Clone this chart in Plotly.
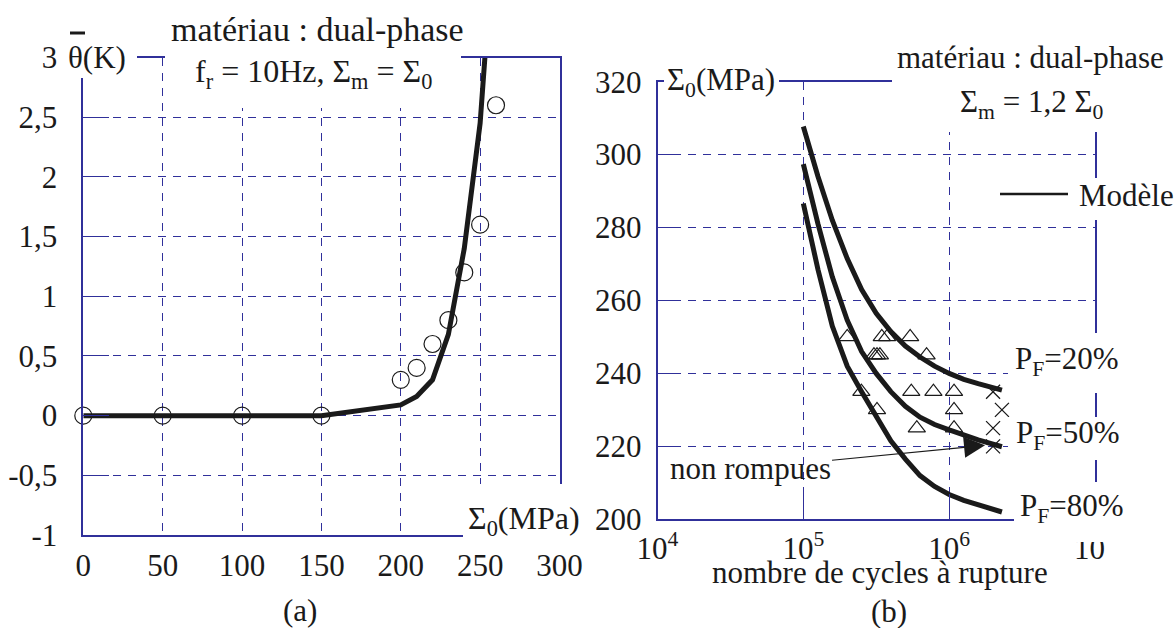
import plotly.graph_objects as go

W, H = 1176, 628
FONT = "Liberation Serif"
INK = "#1a1a1a"
NAVY = "#30309a"

# ---- (a) mean temperature rise vs stress amplitude ----
sigma_model = [0, 50, 100, 150, 200, 210, 220, 230, 240, 250, 253]
theta_model = [0, 0, 0, 0, 0.09, 0.16, 0.30, 0.68, 1.40, 2.45, 3.0]
sigma_exp = [0, 50, 100, 150, 200, 210, 220, 230, 240, 250, 260]
theta_exp = [0, 0, 0, 0, 0.30, 0.40, 0.60, 0.80, 1.20, 1.60, 2.60]
a_xticks = [0, 50, 100, 150, 200, 250, 300]
a_yticks = [-1, -0.5, 0, 0.5, 1, 1.5, 2, 2.5, 3]
a_yticktext = ["-1", "-0,5", "0", "0,5", "1", "1,5", "2", "2,5", "3"]

# ---- (b) S-N curves for three failure probabilities ----
n_curve = [1.0e5, 1.26e5, 1.58e5, 2.0e5, 2.51e5, 3.16e5, 3.98e5, 5.01e5,
           6.31e5, 7.94e5, 1.0e6, 1.26e6, 1.58e6, 2.3e6]
s_p20 = [307.7, 294.0, 282.0, 271.5, 263.0, 256.5, 251.5, 247.5,
         244.5, 242.0, 240.0, 238.4, 237.2, 235.4]
s_p50 = [297.4, 281.0, 266.5, 254.6, 246.0, 240.0, 235.0, 231.0,
         228.0, 226.0, 224.5, 223.0, 221.8, 219.9]
s_p80 = [286.6, 268.5, 253.0, 242.0, 235.0, 228.0, 221.5, 216.5,
         212.0, 209.0, 206.8, 205.2, 204.0, 202.0]
n_broken = [2.0e5, 3.45e5, 3.75e5, 5.4e5,
            3.05e5, 3.2e5, 3.35e5, 7.0e5,
            2.5e5, 5.5e5, 7.8e5, 1.08e6,
            3.2e5, 1.08e6,
            6.0e5, 1.08e6]
s_broken = [250, 250, 250, 250,
            245, 245, 245, 245,
            235, 235, 235, 235,
            230, 230,
            225, 225]
n_runout = [2.0e6, 2.3e6, 2.0e6, 2.0e6]
s_runout = [235, 230, 225, 220]
b_xticks = [1e4, 1e5, 1e6, 1e7]
b_xticktext = ["10<sup>4</sup>", "10<sup>5</sup>", "10<sup>6</sup>", "10<sup>7</sup>"]
b_yticks = [200, 220, 240, 260, 280, 300, 320]


def px(x):
    return x / W


def py(y):
    return 1 - y / H


fig = go.Figure()

fig.add_trace(go.Scatter(x=sigma_model, y=theta_model, mode="lines",
                         line=dict(color=INK, width=5), xaxis="x", yaxis="y",
                         showlegend=False, cliponaxis=True))
fig.add_trace(go.Scatter(x=sigma_exp, y=theta_exp, mode="markers",
                         marker=dict(symbol="circle-open", size=17, color=INK,
                                     line=dict(width=1.2, color=INK)),
                         xaxis="x", yaxis="y", showlegend=False, cliponaxis=False))

for s in (s_p20, s_p50, s_p80):
    fig.add_trace(go.Scatter(x=n_curve, y=s, mode="lines",
                             line=dict(color=INK, width=5),
                             xaxis="x2", yaxis="y2", showlegend=False))
fig.add_trace(go.Scatter(x=n_broken, y=s_broken, mode="markers",
                         marker=dict(symbol="triangle-up-open", size=15, color=INK,
                                     line=dict(width=1.2, color=INK)),
                         xaxis="x2", yaxis="y2", showlegend=False))
fig.add_trace(go.Scatter(x=n_runout, y=s_runout, mode="markers",
                         marker=dict(symbol="x-thin-open", size=14, color=INK,
                                     line=dict(width=1.3, color=INK)),
                         xaxis="x2", yaxis="y2", showlegend=False))

axis_common = dict(showline=True, linecolor=NAVY, linewidth=1.5, mirror=True,
                   showgrid=True, gridcolor=NAVY, gridwidth=1.2, griddash="8px,7px",
                   zeroline=False, automargin=False,
                   tickfont=dict(family=FONT, size=31, color=INK))

fig.update_layout(
    width=W, height=H,
    margin=dict(l=0, r=0, t=0, b=0, pad=0, autoexpand=False),
    paper_bgcolor="white", plot_bgcolor="white",
    font=dict(family=FONT, size=31, color=INK),
    xaxis=dict(domain=[px(83.3), px(559.5)], range=[0, 300], tickvals=a_xticks,
               ticks="", ticklabelstandoff=2, anchor="y", **axis_common),
    yaxis=dict(domain=[py(535), py(57.5)], range=[-1, 3], tickvals=a_yticks,
               ticktext=a_yticktext, ticks="inside", ticklen=26, tickwidth=1.3,
               tickcolor=NAVY, ticklabelstandoff=18, anchor="x", **axis_common),
    xaxis2=dict(domain=[px(657.5), px(1095)], type="log", range=[4, 7],
                tickvals=b_xticks, ticktext=b_xticktext, ticks="inside", ticklen=26,
                tickwidth=1.3, tickcolor=NAVY, ticklabelstandoff=1, anchor="y2",
                **axis_common),
    yaxis2=dict(domain=[py(519.3), py(81.7)], range=[200, 320], tickvals=b_yticks,
                ticks="inside", ticklen=24, tickwidth=1.3, tickcolor=NAVY,
                ticklabelstandoff=8, anchor="x2", **axis_common),
)

# white masks where labels sit on top of the frame
masks = [
    (64, 18, 137, 78),
    (165, 0, 461, 108),
    (463, 484, 590, 551),
    (664, 40, 779, 100),
    (892, 0, 1176, 132),
    (1000, 178, 1176, 220),
    (1008, 333, 1176, 393),
    (1008, 417, 1176, 460),
    (1014, 482, 1176, 542),
    (1105, 520, 1124, 553),
]
for x0, y0, x1, y1 in masks:
    fig.add_shape(type="rect", xref="paper", yref="paper",
                  x0=px(x0), x1=px(x1), y0=py(y1), y1=py(y0),
                  fillcolor="white", line=dict(width=0), layer="above")

# bar over theta and legend sample line
fig.add_shape(type="line", xref="paper", yref="paper", x0=px(70), x1=px(85),
              y0=py(33), y1=py(33), line=dict(color=INK, width=3), layer="above")
fig.add_shape(type="line", xref="paper", yref="paper", x0=px(1000), x1=px(1068),
              y0=py(194), y1=py(194), line=dict(color=INK, width=2.5), layer="above")


def label(text, x, y, xanchor="left", size=31):
    fig.add_annotation(text=text, x=px(x), y=py(y), xref="paper", yref="paper",
                       xanchor=xanchor, yanchor="middle", showarrow=False,
                       font=dict(family=FONT, size=size, color=INK))


label("θ(K)", 66, 58)
label("matériau : dual-phase", 317, 30, "center", 34)
label("f<sub>r</sub> = 10Hz, Σ<sub>m</sub> = Σ<sub>0</sub>", 193, 74, size=32)
label("Σ<sub>0</sub>(MPa)", 466, 520, size=32)
label("(a)", 300, 610, "center")

label("Σ<sub>0</sub>(MPa)", 665, 82)
label("matériau : dual-phase", 895, 58)
label("Σ<sub>m</sub> = 1,2 Σ<sub>0</sub>", 958, 104)
label("Modèle", 1077, 195)
label("P<sub>F</sub>=20%", 1013, 361)
label("P<sub>F</sub>=50%", 1014, 435)
label("P<sub>F</sub>=80%", 1018, 508)
label("nombre de cycles à rupture", 880, 572, "center")
label("(b)", 889, 611, "center")

fig.add_annotation(text="non rompues", x=6.246, y=220.3, xref="x2", yref="y2",
                   ax=-235, ay=23, axref="pixel", ayref="pixel", showarrow=True,
                   arrowhead=2, arrowsize=3.5, arrowwidth=1.2, arrowcolor=INK,
                   standoff=0, startstandoff=0,
                   font=dict(family=FONT, size=31, color=INK))

fig.write_html("out.html")
